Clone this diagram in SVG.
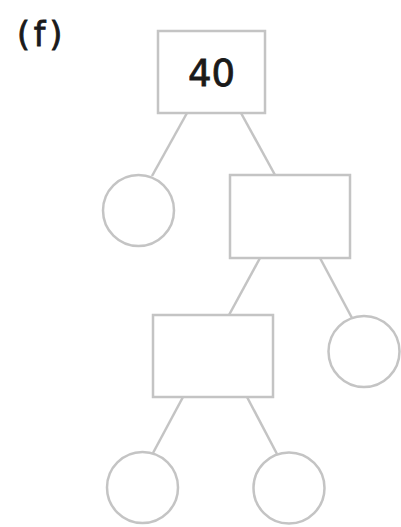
<svg xmlns="http://www.w3.org/2000/svg" width="401" height="527" viewBox="0 0 401 527">
<style>
.n{fill:#fff;stroke:#c4c4c4;stroke-width:2.5}
.e{stroke:#c4c4c4;stroke-width:2.5;fill:none}
.t{font-family:"DejaVu Sans",sans-serif;fill:#1a1a1a;stroke:#1a1a1a;stroke-width:0.8}
</style>
<rect width="401" height="527" fill="#fff"/>
<text class="t" x="17" y="46" font-size="33" letter-spacing="4">(f)</text>
<g id="edges">
<line class="e" x1="187" y1="113" x2="152" y2="176"/>
<line class="e" x1="241" y1="113" x2="275" y2="175"/>
<line class="e" x1="260" y1="258" x2="229" y2="315"/>
<line class="e" x1="320" y1="258" x2="352" y2="318"/>
<line class="e" x1="183" y1="397" x2="153" y2="453"/>
<line class="e" x1="247" y1="397" x2="277" y2="454"/>
</g>
<g id="n40"><rect class="n" x="158" y="31" width="107" height="82"/><text class="t" x="211.5" y="86" font-size="37" text-anchor="middle">40</text></g>
<g id="c1"><circle class="n" cx="138.5" cy="210.5" r="35.5"/></g>
<g id="r2"><rect class="n" x="230" y="175" width="120" height="83"/></g>
<g id="r3"><rect class="n" x="153" y="315" width="120" height="82"/></g>
<g id="c2"><circle class="n" cx="364" cy="351.5" r="35.5"/></g>
<g id="c3"><circle class="n" cx="142.5" cy="487.5" r="35.5"/></g>
<g id="c4"><circle class="n" cx="289" cy="488" r="35.5"/></g>
</svg>
